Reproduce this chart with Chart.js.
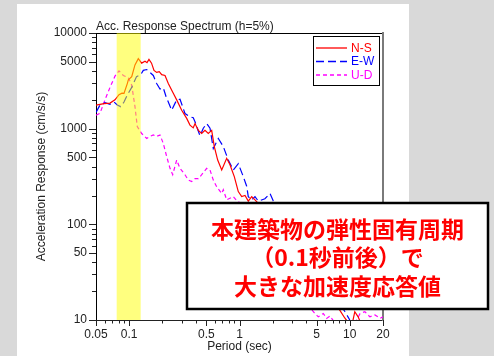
<!DOCTYPE html>
<html>
<head>
<meta charset="utf-8">
<script src="https://cdn.jsdelivr.net/npm/chart.js@4.4.1/dist/chart.umd.min.js"></script>
<style>
  html, body { margin: 0; padding: 0; background: #d9d9d9; }
  canvas { display: block; }
</style>
</head>
<body>
<canvas id="spectrum" width="494" height="356"></canvas>
<script>
// N-S component (period in sec, acceleration in cm/s/s)
const periodNS = [0.05, 0.0591, 0.067, 0.0743, 0.0808, 0.086, 0.0897, 0.0961, 0.0982, 0.1054, 0.1128, 0.1209,
  0.1297, 0.1391, 0.145, 0.1511, 0.1594, 0.1678, 0.1774, 0.1873, 0.1971, 0.2112, 0.2262, 0.251, 0.2695,
  0.2992, 0.332, 0.3557, 0.3808, 0.3951, 0.4233, 0.4541, 0.4864, 0.5213, 0.5595, 0.5909, 0.6342, 0.6898,
  0.7653, 0.8199, 0.8971, 0.975, 1.047, 1.122, 1.201, 1.29, 1.382, 1.6, 1.9, 2.3, 2.8, 3.4, 4, 5, 6, 7, 8,
  9, 10, 10.6, 11.1, 11.9, 13, 16, 20];
const accelNS = [1760, 1830, 1850, 2000, 2270, 2350, 2340, 2960, 3240, 3500, 4640, 5400,
  4840, 5060, 4900, 5300, 4840, 4070, 3870, 3950, 3670, 3600, 2960, 2340, 2000,
  1560, 1280, 1090, 1020, 1130, 960, 890, 960, 890, 960, 650, 470, 370,
  490, 420, 315, 220, 195, 200, 175, 195, 180, 150, 140, 120, 85, 60, 45, 30, 22, 17, 13,
  10.5, 9, 9.5, 12.2, 10.8, 8.5, 7, 6];

// E-W component
const periodEW = [0.05, 0.0544, 0.0603, 0.067, 0.0728, 0.078, 0.0837, 0.0897, 0.0961, 0.1054, 0.1165, 0.1271,
  0.1342, 0.1441, 0.1543, 0.1654, 0.1774, 0.1902, 0.2038, 0.216, 0.2428, 0.2695, 0.2888, 0.3205, 0.3557,
  0.3808, 0.3951, 0.4385, 0.4698, 0.5042, 0.5403, 0.5786, 0.6426, 0.7131, 0.791, 0.8787, 0.9752, 1.083,
  1.162, 1.201, 1.29, 1.382, 1.48, 1.7, 1.89, 2.025, 2.5, 3, 4, 5, 6, 7, 8, 9.05, 10, 11, 14, 20];
const accelEW = [1480, 1770, 1870, 1800, 1900, 1770, 1700, 1900, 2250, 2700, 3500, 3670,
  4070, 4150, 3870, 3600, 2960, 2600, 2670, 2160, 1560, 2000, 2030, 1440, 1330,
  1300, 1180, 840, 1010, 1130, 1010, 620, 790, 650, 470, 370, 430, 315,
  250, 195, 180, 195, 175, 185, 210, 175, 120, 85, 50, 35, 25, 19, 15, 12.2, 10, 8.5, 7, 5];

// U-D component
const periodUD = [0.05, 0.0544, 0.0603, 0.067, 0.0743, 0.0808, 0.0884, 0.0982, 0.1054, 0.1128, 0.1184, 0.1297,
  0.1441, 0.1543, 0.1654, 0.1774, 0.1902, 0.2038, 0.2188, 0.2344, 0.2479, 0.2695, 0.2888, 0.3205, 0.3434,
  0.3688, 0.3951, 0.4233, 0.4541, 0.5042, 0.5403, 0.5786, 0.6211, 0.6898, 0.7131, 0.7653, 0.8787, 0.95,
  1.2, 1.6, 2, 2.5, 3, 3.5, 4, 4.67, 5.18, 5.75, 6.17, 6.6, 7.5, 9, 11, 12.4, 13.7, 15.2, 16.9, 18.8, 20];
const accelUD = [1380, 1450, 2000, 2700, 3540, 4020, 3600, 3410, 2850, 1700, 1050, 890,
  790, 830, 860, 830, 860, 700, 510, 385, 330, 470, 385, 330, 290,
  280, 300, 300, 330, 385, 370, 290, 247, 210, 230, 180, 195, 175,
  150, 110, 75, 50, 32, 22, 16, 12.2, 10.8, 11.7, 10.4, 11, 9, 8.5, 9, 11.7, 12.2, 10.8, 11.3, 10.4, 10.8];

const seriesLabels = ['N-S', 'E-W', 'U-D'];
const xTickLabels = [0.05, 0.1, 0.5, 1, 5, 10, 20];
const yTickLabels = [10, 50, 100, 500, 1000, 5000, 10000];
const bandPeriod = [0.077, 0.127];   // highlighted period range (~0.1 sec)
const chartTitle = 'Acc. Response Spectrum (h=5%)';
const noteLines = ['本建築物の弾性固有周期', '（0.1秒前後）で', '大きな加速度応答値'];

const FONT = "Arial, 'Liberation Sans', sans-serif";

function toXY(xs, ys) {
  return xs.map((x, i) => ({ x: x, y: ys[i] }));
}

// minor tick positions: 1..9 x 10^n inside [lo, hi]
function logTicks(lo, hi) {
  const out = [];
  for (let e = -2; e <= 4; e++) {
    for (let m = 1; m <= 9; m++) {
      const v = +(m * Math.pow(10, e)).toPrecision(3);
      if (v >= lo * 0.999 && v <= hi * 1.001) out.push(v);
    }
  }
  return out;
}

const framePlugin = {
  id: 'frame',
  beforeDraw(chart) {
    const ctx = chart.ctx;
    ctx.save();
    ctx.fillStyle = '#d9d9d9';
    ctx.fillRect(0, 0, chart.width, chart.height);
    ctx.fillStyle = '#ffffff';
    ctx.fillRect(17, 4, 392, 352);
    ctx.restore();
  },
  afterDatasetsDraw(chart) {
    // yellow band drawn over the curves
    const ctx = chart.ctx;
    const area = chart.chartArea;
    const x = chart.scales.x;
    const x0 = x.getPixelForValue(bandPeriod[0]);
    const x1 = x.getPixelForValue(bandPeriod[1]);
    ctx.save();
    ctx.fillStyle = 'rgba(255, 255, 0, 0.5)';
    ctx.fillRect(x0, area.top, x1 - x0, area.bottom - area.top);
    ctx.restore();
  },
  afterDraw(chart) {
    const ctx = chart.ctx;
    const area = chart.chartArea;
    const xs = chart.scales.x;
    const ys = chart.scales.y;
    ctx.save();

    // tick marks, long for labelled values
    ctx.strokeStyle = '#222';
    ctx.lineWidth = 1;
    ctx.beginPath();
    logTicks(0.05, 20).forEach(v => {
      const px = Math.round(xs.getPixelForValue(v)) + 0.5;
      const len = xTickLabels.includes(v) ? 6 : 3.5;
      ctx.moveTo(px, area.bottom);
      ctx.lineTo(px, area.bottom + len);
    });
    logTicks(10, 10000).forEach(v => {
      const py = Math.round(ys.getPixelForValue(v)) + 0.5;
      const len = yTickLabels.includes(v) ? 7 : 4;
      ctx.moveTo(area.left, py);
      ctx.lineTo(area.left - len, py);
    });
    ctx.stroke();

    // legend
    const lx = 313, ly = 36, lw = 66, lh = 49;
    ctx.fillStyle = '#fff';
    ctx.fillRect(lx, ly, lw, lh);
    ctx.strokeStyle = '#000';
    ctx.lineWidth = 1;
    ctx.strokeRect(lx + 0.5, ly + 0.5, lw, lh);
    ctx.font = '12px ' + FONT;
    ctx.textAlign = 'left';
    ctx.textBaseline = 'middle';
    chart.data.datasets.forEach((ds, i) => {
      const y = 48 + i * 13.5;
      ctx.strokeStyle = ds.borderColor;
      ctx.lineWidth = 1.3;
      ctx.setLineDash(ds.borderDash || []);
      ctx.beginPath();
      ctx.moveTo(316, y);
      ctx.lineTo(347, y);
      ctx.stroke();
      ctx.setLineDash([]);
      ctx.fillStyle = ds.borderColor;
      ctx.fillText(ds.label, 351, y + 0.5);
    });

    // annotation box
    ctx.fillStyle = '#fff';
    ctx.fillRect(187, 203, 301, 106);
    ctx.strokeStyle = '#000';
    ctx.lineWidth = 2.5;
    ctx.strokeRect(187, 203, 301, 106);
    ctx.fillStyle = '#ff0000';
    ctx.font = "bold 23px 'Noto Sans CJK JP'";
    ctx.textAlign = 'center';
    ctx.textBaseline = 'middle';
    const lineY = [229, 257, 286];
    noteLines.forEach((t, i) => ctx.fillText(t, 337.5, lineY[i]));
    ctx.restore();
  }
};

const lineStyle = { borderWidth: 1.2, pointRadius: 0, tension: 0, fill: false };

new Chart(document.getElementById('spectrum'), {
  type: 'line',
  data: {
    datasets: [
      Object.assign({ label: seriesLabels[0], data: toXY(periodNS, accelNS), borderColor: '#ff0000', borderDash: [] }, lineStyle),
      Object.assign({ label: seriesLabels[1], data: toXY(periodEW, accelEW), borderColor: '#0000ff', borderDash: [8, 4] }, lineStyle),
      Object.assign({ label: seriesLabels[2], data: toXY(periodUD, accelUD), borderColor: '#ff00ff', borderDash: [4, 3] }, lineStyle)
    ]
  },
  options: {
    responsive: false,
    animation: false,
    layout: { padding: 0 },
    plugins: {
      legend: { display: false },
      tooltip: { enabled: false },
      title: { display: false }
    },
    scales: {
      x: {
        type: 'logarithmic',
        position: 'bottom',
        min: 0.05,
        max: 20,
        afterBuildTicks: s => { s.ticks = xTickLabels.map(v => ({ value: v })); },
        afterFit: s => { s.height = 36; },
        ticks: {
          autoSkip: false, maxRotation: 0, padding: 7, color: '#222',
          font: { family: FONT, size: 12 },
          callback: v => String(v)
        },
        grid: { display: true, drawOnChartArea: false, drawTicks: false },
        border: { display: true, color: '#222', width: 1 },
        title: {
          display: true, text: 'Period (sec)', color: '#222',
          font: { family: FONT, size: 12 }, padding: { top: 0, bottom: 2 }
        }
      },
      x2: {
        type: 'logarithmic',
        position: 'top',
        min: 0.05,
        max: 20,
        afterFit: s => { s.height = 33; },
        ticks: { display: false },
        grid: { display: true, drawOnChartArea: false, drawTicks: false },
        border: { display: true, color: '#000', width: 1 },
        title: {
          display: true, text: chartTitle, align: 'start', color: '#222',
          font: { family: FONT, size: 12 }, padding: { top: 19, bottom: 0 }
        }
      },
      y: {
        type: 'logarithmic',
        position: 'left',
        min: 10,
        max: 10000,
        afterBuildTicks: s => { s.ticks = yTickLabels.map(v => ({ value: v })); },
        afterFit: s => { s.width = 96; },
        ticks: {
          autoSkip: false, padding: 9, color: '#222',
          font: { family: FONT, size: 12 },
          callback: v => String(v)
        },
        grid: { display: true, drawOnChartArea: false, drawTicks: false },
        border: { display: true, color: '#000', width: 1 },
        title: {
          display: true, text: 'Acceleration Response (cm/s/s)', color: '#222',
          font: { family: FONT, size: 12 }, padding: { top: 34, bottom: 0 }
        }
      },
      y2: {
        type: 'logarithmic',
        position: 'right',
        min: 10,
        max: 10000,
        afterFit: s => { s.width = 111; },
        ticks: { display: false },
        grid: { display: true, drawOnChartArea: false, drawTicks: false },
        border: { display: true, color: '#7a7a7a', width: 2 }
      }
    }
  },
  plugins: [framePlugin]
});
</script>
</body>
</html>
